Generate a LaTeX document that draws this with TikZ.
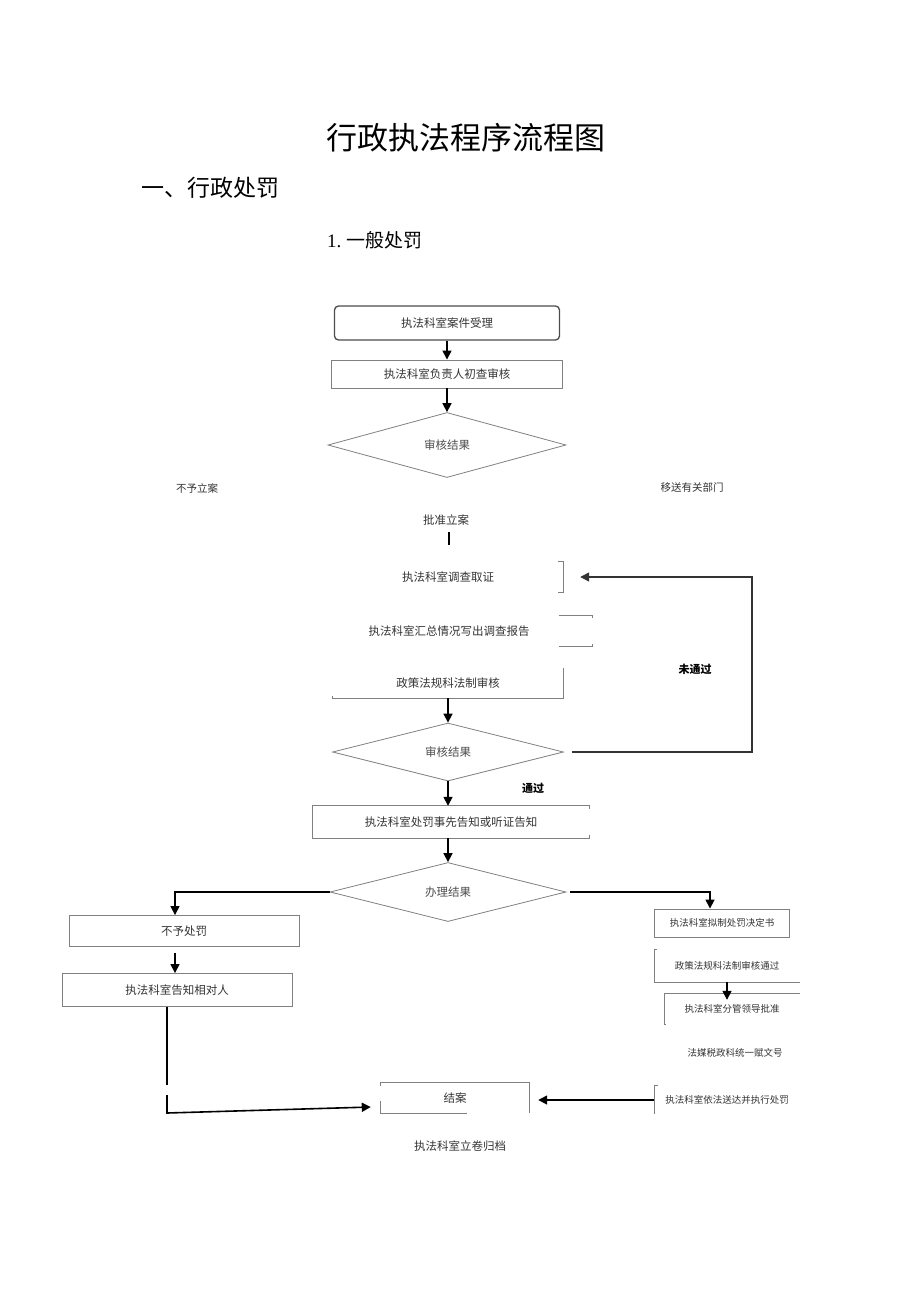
\documentclass[tikz,border=0pt]{standalone}
\usepackage{fontspec}
\setmainfont{Noto Sans CJK SC}
\newfontfamily\numfont{Liberation Serif}
\usetikzlibrary{arrows.meta,shapes.geometric}

\begin{document}
\begin{tikzpicture}[x=1pt,y=-1pt,
    box/.style={draw=black!50,line width=0.9pt,inner sep=0pt,text=black!80,font=\fontsize{11.5}{13}\selectfont},
    hidden/.style={inner sep=0pt,text=black!80,font=\fontsize{11.5}{13}\selectfont},
    tiny/.style={inner sep=0pt,text=black!80,font=\fontsize{9.5}{11}\selectfont},
    decide/.style={diamond,draw=black!50,line width=0.8pt,inner sep=0pt,text=black!70,font=\fontsize{11.5}{13}\selectfont},
    frag/.style={draw=black!50,line width=0.9pt},
    arr/.style={-{Triangle[length=9pt,width=9pt]},line width=1.6pt}]
  \useasboundingbox (0,0) rectangle (920,1301);

  \node (title) at (466,138) {\fontsize{31}{36}\selectfont 行政执法程序流程图};
  \node[anchor=west] (sec) at (138,188) {\fontsize{23}{28}\selectfont 一、行政处罚};
  \node (sub) at (375,240) {\fontsize{19}{24}\selectfont{\numfont 1.} 一般处罚};

  \node[box,rounded corners=4pt,line width=1.3pt,draw=black!70,minimum width=225pt,minimum height=34pt] (accept) at (447,323) {执法科室案件受理};
  \node[box,minimum width=231pt,minimum height=28pt] (check) at (447,374) {执法科室负责人初查审核};
  \node[decide,minimum width=238pt,minimum height=65pt] (res1) at (447,445) {审核结果};
  \node[hidden,font=\fontsize{10.5}{12}\selectfont] (refuse) at (197,488) {不予立案};
  \node[hidden,font=\fontsize{10.5}{12}\selectfont] (transfer) at (692,488) {移送有关部门};
  \node[hidden] (approve) at (446,520) {批准立案};
  \coordinate (s1) at (449,532);
  \coordinate (s2) at (449,545);

  \node[hidden,minimum width=230pt,minimum height=31pt] (invest) at (448,577) {执法科室调查取证};
  \node[hidden,minimum width=286pt,minimum height=30pt] (report) at (449,631) {执法科室汇总情况写出调查报告};
  \node[hidden,minimum width=230pt,minimum height=30pt] (legal) at (448,683) {政策法规科法制审核};
  \node[decide,minimum width=231pt,minimum height=58pt] (res2) at (448,752) {审核结果};
  \node[hidden,minimum width=277pt,minimum height=32pt] (notice) at (451,822) {执法科室处罚事先告知或听证告知};
  \node[decide,minimum width=236pt,minimum height=59pt] (res3) at (448,892) {办理结果};

  \node[box,minimum width=230pt,minimum height=31pt] (nopen) at (184,931) {不予处罚};
  \node[box,minimum width=230pt,minimum height=33pt] (inform) at (177,990) {执法科室告知相对人};
  \node[hidden,minimum width=148pt,minimum height=30pt] (close) at (455,1098) {结案};
  \node[hidden] (archive) at (460,1146) {执法科室立卷归档};

  \node[box,tiny,minimum width=135pt,minimum height=28pt] (draft) at (722,923) {执法科室拟制处罚决定书};
  \node[tiny,minimum width=145pt,minimum height=32pt] (pass) at (727,966) {政策法规科法制审核通过};
  \node[tiny,minimum width=135pt,minimum height=30pt] (leader) at (732,1009) {执法科室分管领导批准};
  \node[tiny] (number) at (735,1053) {法媒税政科统一赋文号};
  \node[tiny,minimum width=145pt,minimum height=28pt] (serve) at (727,1100) {执法科室依法送达并执行处罚};

  \node[font=\bfseries\fontsize{11}{13}\selectfont] (fail) at (695,669) {未通过};
  \node[font=\bfseries\fontsize{11}{13}\selectfont] (ok) at (533,788) {通过};

  \draw[frag] ([xshift=-5pt]invest.north east) -- (invest.north east) -- (invest.south east) -- ([xshift=-5pt]invest.south east);
  \draw[frag] ([xshift=-33pt]report.north east) -- (report.north east) -- ([yshift=-2pt]report.north east);
  \draw[frag] ([xshift=-33pt]report.south east) -- (report.south east) -- ([yshift=2pt]report.south east);
  \draw[frag] (legal.north east) -- (legal.south east) -- (legal.south west) -- ([yshift=2pt]legal.south west);
  \draw[frag] ([yshift=-3pt]notice.north east) -- (notice.north east) -- (notice.north west) -- (notice.south west) -- (notice.south east) -- ([yshift=3pt]notice.south east);
  \draw[frag] ([yshift=-3pt]close.north west) -- (close.north west) -- (close.north east) -- (close.south east);
  \draw[frag] ([yshift=12pt]close.south west) -- (close.south west) -- ([xshift=86pt]close.south west);
  \draw[frag] ([xshift=3pt]pass.north west) -- (pass.north west) -- (pass.south west) -- (pass.south east);
  \draw[frag] (leader.north east) -- (leader.north west) -- (leader.south west) -- ([xshift=2pt]leader.south west);
  \draw[frag] ([xshift=4pt]serve.north west) -- (serve.north west) -- (serve.south west);

  \draw[arr] (accept.south) -- (check.north);
  \draw[arr] (check.south) -- (res1.north);
  \draw[line width=1.6pt] (s1) -- (s2);
  \draw[arr] (legal.south) -- (res2.north);
  \draw[arr] (res2.south) -- (notice.north -| res2.south);
  \draw[arr] (notice.south -| res3.north) -- (res3.north);
  \coordinate (lp) at (752,577);
  \draw[arr,line width=1.4pt,draw=black!80] ([xshift=8pt]res2.east) -| (lp) -- ([xshift=17pt]invest.east);

  \draw[arr] (res3.west) -| ([xshift=-9pt]nopen.north);
  \draw[arr] ([shift={(-9,6)}]nopen.south) -- ([xshift=-9pt]nopen.south |- inform.north);
  \coordinate (g1) at (167,1085);
  \coordinate (g2) at (167,1095);
  \coordinate (g3) at (167,1113);
  \draw[line width=1.6pt] ([xshift=-10pt]inform.south) -- (g1);
  \draw[arr] (g2) -- (g3) -- ([shift={(-10,9)}]close.west);

  \draw[arr] ([xshift=4pt]res3.east) -| ([xshift=-12pt]draft.north);
  \draw[arr] (pass.south) -- ([yshift=-6pt]pass.south |- leader.north);
  \draw[arr] (serve.west) -- ([xshift=9pt]close.east |- serve.west);
\end{tikzpicture}
\end{document}
